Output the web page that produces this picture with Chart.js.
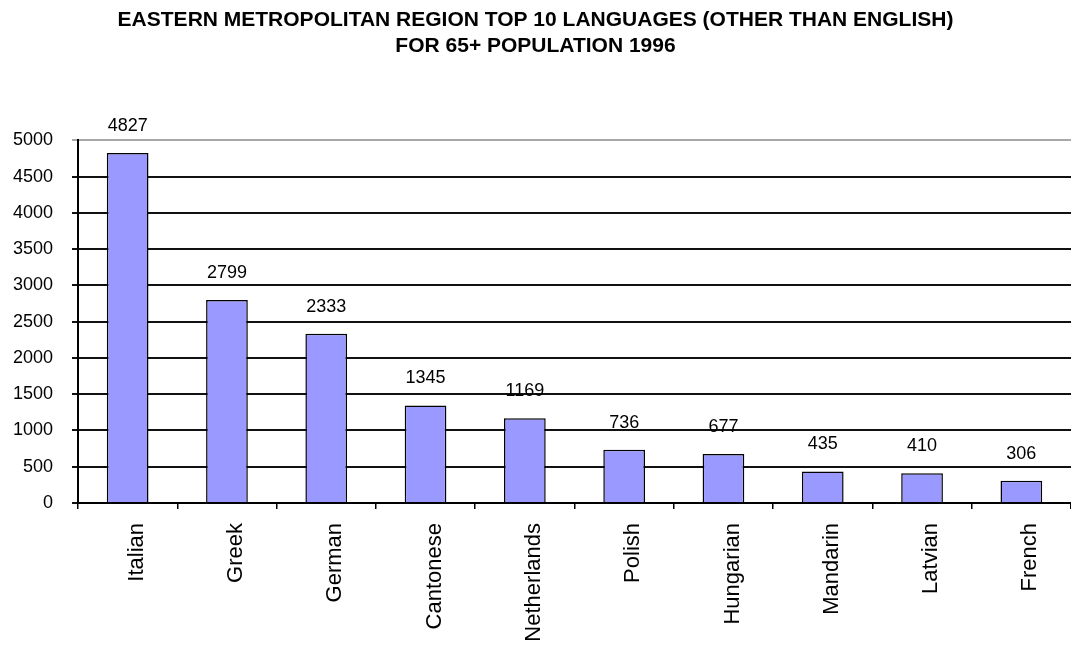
<!DOCTYPE html>
<html>
<head>
<meta charset="utf-8">
<script src="https://cdn.jsdelivr.net/npm/chart.js@4"></script>
<style>
  html, body { margin: 0; padding: 0; background: #fff; overflow: hidden; }
  #wrap { width: 1071px; height: 646px; }
</style>
</head>
<body>
<div id="wrap"><canvas id="chart" width="1071" height="646"></canvas></div>
<script>
// Chart text and values
const titleLines = [
  'EASTERN METROPOLITAN REGION TOP 10 LANGUAGES (OTHER THAN ENGLISH)',
  'FOR 65+ POPULATION 1996'
];
const languages = ['Italian', 'Greek', 'German', 'Cantonese', 'Netherlands',
                   'Polish', 'Hungarian', 'Mandarin', 'Latvian', 'French'];
const speakers = [4827, 2799, 2333, 1345, 1169, 736, 677, 435, 410, 306];
const yTickValues = [0, 500, 1000, 1500, 2000, 2500, 3000, 3500, 4000, 4500, 5000];

const FONT = '"Liberation Sans", Arial, sans-serif';

// Writes each bar's value above it
const valueLabels = {
  id: 'valueLabels',
  afterDatasetsDraw(chart) {
    const ctx = chart.ctx;
    const meta = chart.getDatasetMeta(0);
    const data = chart.data.datasets[0].data;
    ctx.save();
    ctx.font = '18px ' + FONT;
    ctx.fillStyle = '#000';
    ctx.textAlign = 'center';
    ctx.textBaseline = 'middle';
    meta.data.forEach((bar, i) => {
      ctx.fillText(String(data[i]), bar.x, bar.y - 27);
    });
    ctx.restore();
  }
};

new Chart(document.getElementById('chart'), {
  type: 'bar',
  data: {
    labels: languages,
    datasets: [{
      data: speakers,
      backgroundColor: '#9999ff',
      borderColor: '#000',
      borderWidth: 1.5,
      barPercentage: 0.42,
      categoryPercentage: 1.0
    }]
  },
  options: {
    responsive: false,
    animation: false,
    devicePixelRatio: 1,
    layout: { padding: { left: 0, right: 0, top: 0, bottom: 0 } },
    plugins: {
      legend: { display: false },
      tooltip: { enabled: false },
      title: {
        display: true,
        text: titleLines,
        color: '#000',
        font: { family: FONT, size: 21, weight: 'bold', lineHeight: 1.2 },
        padding: { top: 8, bottom: 82 }
      }
    },
    scales: {
      x: {
        afterFit(scale) { scale.height = 143; },
        grid: {
          offset: true,
          drawOnChartArea: false,
          drawTicks: true,
          tickLength: 6,
          color: '#000',
          lineWidth: 1.5
        },
        border: { color: '#000', width: 2 },
        ticks: {
          autoSkip: false,
          minRotation: 90,
          maxRotation: 90,
          padding: 14,
          labelOffset: 9,
          color: '#000',
          font: { family: FONT, size: 22 }
        }
      },
      y: {
        min: 0,
        max: 5000,
        afterFit(scale) { scale.width = 78; },
        afterBuildTicks(scale) {
          scale.ticks = yTickValues.map(v => ({ value: v }));
        },
        grid: {
          drawTicks: true,
          tickLength: 6,
          lineWidth: 2,
          color: ctx => (ctx.tick && ctx.tick.value === 5000) ? '#a8a8a8' : '#111'
        },
        border: { color: '#000', width: 2 },
        ticks: {
          padding: 19,
          color: '#000',
          font: { family: FONT, size: 18 },
          callback: v => String(v)
        }
      }
    }
  },
  plugins: [valueLabels]
});
</script>
</body>
</html>
